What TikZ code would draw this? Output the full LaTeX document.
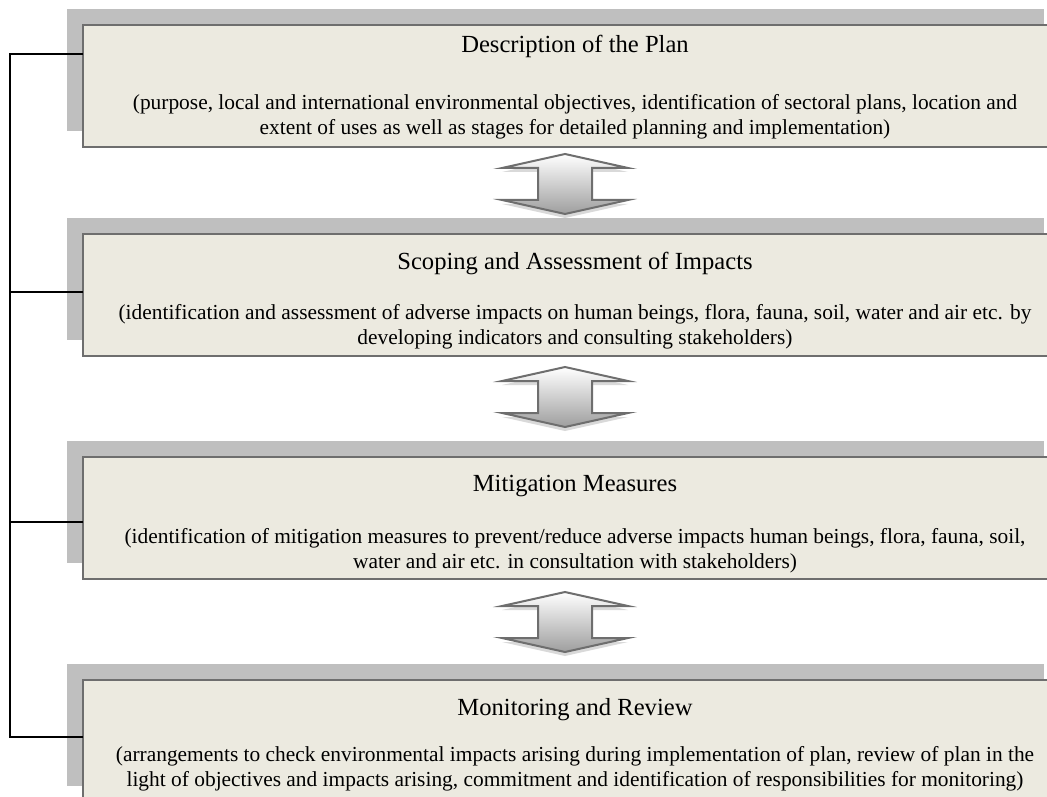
\documentclass[tikz,border=0pt]{standalone}
\usepackage{fontspec}
\setmainfont{Liberation Serif}
\usetikzlibrary{positioning,shadows}

\definecolor{planfill}{RGB}{236,234,224}
\definecolor{planedge}{RGB}{110,110,110}
\definecolor{planshade}{RGB}{191,191,191}

\begin{document}
\begin{tikzpicture}[x=0.5pt,y=-0.5pt,
  stage/.style={draw=planedge,line width=1pt,fill=planfill,outer sep=0pt,inner sep=0pt,
    minimum width=488.5pt,minimum height=61pt,
    drop shadow={shadow xshift=-8pt,shadow yshift=8pt,fill=planshade,opacity=1}},
  head/.style={anchor=base,inner sep=0pt,font=\fontsize{12.3}{14}\selectfont},
  body/.style={anchor=base,align=center,inner sep=0pt,font=\fontsize{10.7}{12.5}\selectfont},
  link/.style={line width=0.8pt},
  updown/.style={draw=planedge,line width=1pt,top color=white,bottom color=black!38,
    drop shadow={shadow xshift=0pt,shadow yshift=-2pt,fill=black!15,opacity=1}}]
\path[use as bounding box] (0,0) rectangle (1047,796);
\clip (0,0) rectangle (1047,796);

% the four stages
\node[stage,anchor=north west] (desc) at (83,25) {};
\node[stage,below=43.5pt of desc] (scope) {};
\node[stage,below=50.5pt of scope] (mitig) {};
\node[stage,below=50.5pt of mitig] (review) {};

% titles sit on their own baseline, the two-line texts on their last line
\node[head] (desc-t) at ([xshift=1.75pt,yshift=-14pt]desc.north) {Description of the Plan};
\node[body] (desc-b) at ([xshift=1.75pt,yshift=-55pt]desc.north)
  {(purpose, local and international environmental objectives, identification of sectoral plans, location and\\
   extent of uses as well as stages for detailed planning and implementation)};
\node[head] (scope-t) at ([xshift=1.75pt,yshift=-18pt]scope.north) {Scoping and Assessment of Impacts};
\node[body] (scope-b) at ([xshift=1.75pt,yshift=-55pt]scope.north)
  {(identification and assessment of adverse impacts on human beings, flora, fauna, soil, water and air etc. by\\
   developing indicators and consulting stakeholders)};
\node[head] (mitig-t) at ([xshift=1.75pt,yshift=-17pt]mitig.north) {Mitigation Measures};
\node[body] (mitig-b) at ([xshift=1.75pt,yshift=-55.5pt]mitig.north)
  {(identification of mitigation measures to prevent/reduce adverse impacts human beings, flora, fauna, soil,\\
   water and air etc. in consultation with stakeholders)};
\node[head] (review-t) at ([xshift=1.75pt,yshift=-17.5pt]review.north) {Monitoring and Review};
\node[body] (review-b) at ([xshift=1.75pt,yshift=-53pt]review.north)
  {(arrangements to check environmental impacts arising during implementation of plan, review of plan in the\\
   light of objectives and impacts arising, commitment and identification of responsibilities for monitoring)};

% up/down arrows between the stages
\coordinate[below=3.5pt of desc,xshift=-3.25pt] (a1);
\coordinate[below=5.5pt of scope,xshift=-3.25pt] (a2);
\coordinate[below=6.5pt of mitig,xshift=-3.25pt] (a3);
\foreach \a in {a1,a2,a3}
  \draw[updown] (\a) -- ++(63,14) -- ++(-36,0) -- ++(0,32) -- ++(36,0) -- ++(-63,14)
    -- ++(-63,-14) -- ++(36,0) -- ++(0,-32) -- ++(-36,0) -- cycle;

% feedback bracket on the left
\coordinate (spine) at (10,0);
\coordinate (desc-in) at ([yshift=-14.5pt]desc.north west);
\coordinate (scope-in) at ([yshift=-29pt]scope.north west);
\coordinate (mitig-in) at ([yshift=-32.5pt]mitig.north west);
\coordinate (review-in) at ([yshift=-28.5pt]review.north west);
\draw[link] (desc-in) -- (desc-in -| spine) |- (review-in);
\draw[link] (scope-in) -- (scope-in -| spine);
\draw[link] (mitig-in) -- (mitig-in -| spine);
\end{tikzpicture}
\end{document}
